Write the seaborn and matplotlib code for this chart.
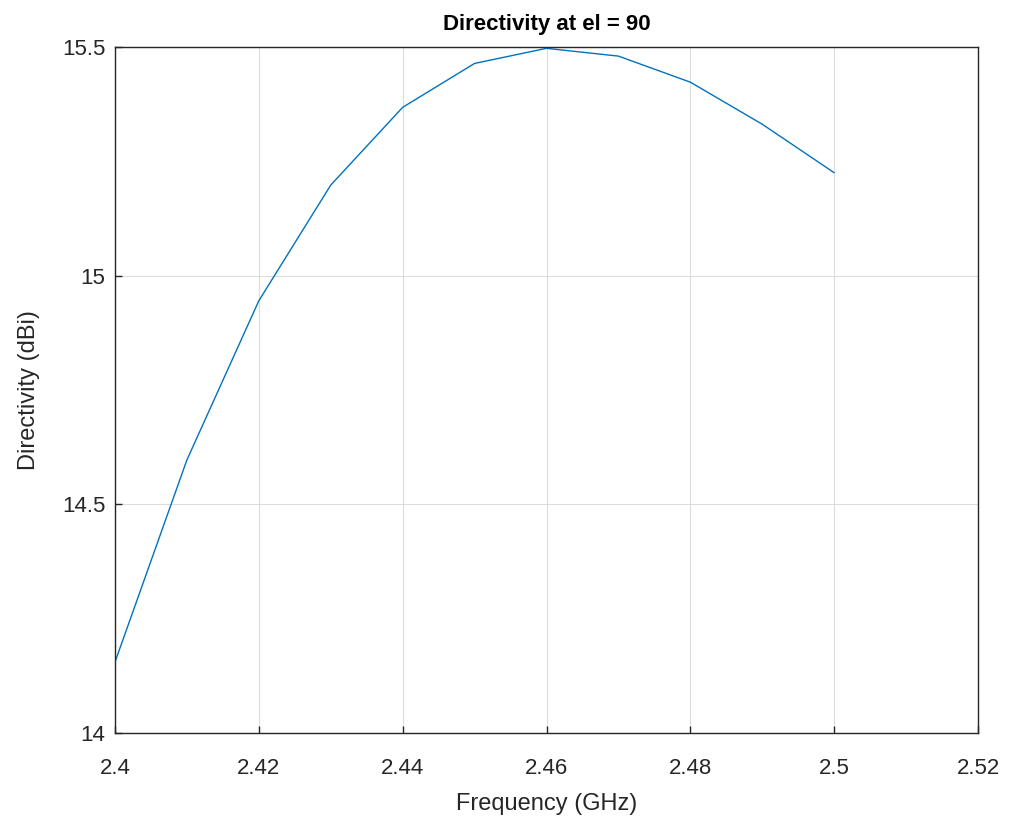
import pandas as pd
import matplotlib
matplotlib.use('Agg')
import matplotlib.pyplot as plt
import seaborn as sns

# Valores
frecuencia = [2.40, 2.41, 2.42, 2.43, 2.44, 2.45, 2.46, 2.47, 2.48, 2.49, 2.50]
directividad = [14.155, 14.597, 14.945, 15.198, 15.368, 15.464, 15.497, 15.480, 15.423, 15.331, 15.225]
xticks = [2.4, 2.42, 2.44, 2.46, 2.48, 2.5, 2.52]
xlabels = ['2.4', '2.42', '2.44', '2.46', '2.48', '2.5', '2.52']
yticks = [14, 14.5, 15, 15.5]
ylabels = ['14', '14.5', '15', '15.5']

df = pd.DataFrame({'Frequency': frecuencia, 'Directivity': directividad})

sns.set_style('ticks')
plt.rcParams['font.family'] = ['Liberation Sans', 'DejaVu Sans']

gris = '#262626'
fig = plt.figure(figsize=(10.13, 8.21), dpi=100)
ax = fig.add_axes([0.1135, 0.1072, 0.852, 0.8356])

sns.lineplot(data=df, x='Frequency', y='Directivity', ax=ax, color='#0072BD', linewidth=1.0)

ax.set_xlim(2.4, 2.52)
ax.set_ylim(14, 15.5)
ax.set_xticks(xticks)
ax.set_xticklabels(xlabels)
ax.set_yticks(yticks)
ax.set_yticklabels(ylabels)
ax.grid(True, color='#dcdcdc', linewidth=0.8)
ax.tick_params(direction='in', length=5, width=1, colors=gris, labelsize=16)
ax.tick_params(axis='x', pad=18)
ax.tick_params(axis='y', pad=7)
for s in ax.spines.values():
    s.set_visible(True)
    s.set_color(gris)
    s.set_linewidth(1.0)

ax.set_title('Directivity at el = 90', fontsize=16, fontweight='bold', color='black', pad=12)
ax.set_xlabel('Frequency (GHz)', fontsize=17, color=gris, labelpad=10)
ax.set_ylabel('Directivity (dBi)', fontsize=17, color=gris, labelpad=16)

plt.savefig('out.png', dpi=100)
